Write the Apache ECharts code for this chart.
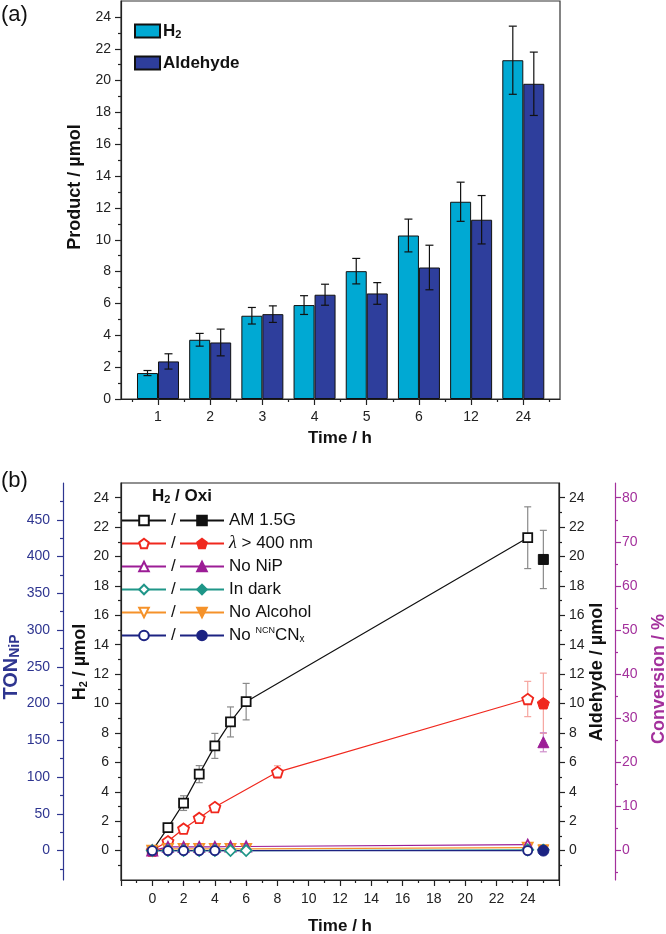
<!DOCTYPE html>
<html><head><meta charset="utf-8">
<script src="https://cdn.jsdelivr.net/npm/echarts@6/dist/echarts.min.js"></script>
<style>html,body{margin:0;padding:0;background:#fff}#c{width:666px;height:934px}</style>
</head><body><div id="c"></div>
<script>
// ---------- Panel (a) data ----------
const barCats = ['1', '2', '3', '4', '5', '6', '12', '24'];
const h2Bar = [1.63, 3.72, 5.23, 5.90, 8.03, 10.27, 12.39, 21.28];
const h2BarErr = [0.16, 0.40, 0.52, 0.59, 0.80, 1.03, 1.23, 2.14];
const aldBar = [2.36, 3.55, 5.33, 6.55, 6.63, 8.26, 11.26, 19.80];
const aldBarErr = [0.48, 0.84, 0.52, 0.66, 0.68, 1.40, 1.52, 1.99];
const aYTicks = [0, 2, 4, 6, 8, 10, 12, 14, 16, 18, 20, 22, 24];
const aYMinor = [1, 3, 5, 7, 9, 11, 13, 15, 17, 19, 21, 23];

// ---------- Panel (b) data ----------
const tAM = [0, 1, 2, 3, 4, 5, 6, 24];
const h2AM = [0, 1.56, 3.23, 5.20, 7.12, 8.75, 10.13, 21.28];
const h2AMErr = [0, 0.2, 0.5, 0.58, 0.85, 1.02, 1.24, 2.1];
const tVis = [0, 1, 2, 3, 4, 8, 24];
const h2Vis = [0, 0.63, 1.49, 2.22, 2.96, 5.34, 10.31];
const h2VisErr = [0, 0, 0, 0, 0, 0.43, 1.2];
const tNoNiP = [0, 1, 2, 3, 4, 5, 6, 24];
const h2NoNiP = [0, 0.25, 0.25, 0.25, 0.25, 0.28, 0.28, 0.4];
const tDark = [0, 1, 2, 3, 4, 5, 6, 24];
const h2Dark = [0, 0, 0, 0, 0, 0, 0, 0.05];
const tNoAlc = [0, 1, 2, 3, 4, 5, 6, 24];
const h2NoAlc = [0, 0.12, 0.12, 0.12, 0.12, 0.12, 0.12, 0.2];
const tNoCN = [0, 1, 2, 3, 4, 24];
const h2NoCN = [0, 0, 0, 0, 0, 0];
const aldTimes = [25, 25, 25, 25, 25, 25];
const aldVals = [19.8, 10.02, 7.37, 0.05, 0.02, 0];
const aldErrs = [1.98, 2.05, 0.65, 0, 0, 0];
const condNames = ['AM 1.5G', 'λ > 400 nm', 'No NiP', 'In dark', 'No Alcohol', 'No NCNCNx'];
const condLabels = ['{n|AM 1.5G}', '{it|λ}{n| > 400 nm}', '{n|No NiP}', '{n|In dark}', '{n|No Alcohol}', '{n|No }{sup|NCN}{n|CN}{sub|x}'];
const bYTicks = [0, 2, 4, 6, 8, 10, 12, 14, 16, 18, 20, 22, 24];
const bYMinor = [-1, 1, 3, 5, 7, 9, 11, 13, 15, 17, 19, 21, 23];
const tonTicks = [0, 50, 100, 150, 200, 250, 300, 350, 400, 450];
const tonMinor = [-25, 25, 75, 125, 175, 225, 275, 325, 375, 425, 475];
const convTicks = [0, 10, 20, 30, 40, 50, 60, 70, 80];
const convMinor = [-5, 5, 15, 25, 35, 45, 55, 65, 75];

// ---------- styling ----------
const FONT = "'Liberation Sans', Arial, Helvetica, sans-serif";
const AX = '#222';
const TONC = '#2e3590';
const CONVC = '#a3309c';
const PENT = 'path://M50,0 L97.55,34.55 L79.39,90.45 L20.61,90.45 L2.45,34.55 Z';

const h2Sets = [
  {t: tAM, v: h2AM, e: h2AMErr},
  {t: tVis, v: h2Vis, e: h2VisErr},
  {t: tNoNiP, v: h2NoNiP, e: null},
  {t: tDark, v: h2Dark, e: null},
  {t: tNoAlc, v: h2NoAlc, e: null},
  {t: tNoCN, v: h2NoCN, e: null}
];
const looks = [
  {c: '#111111', ec: '#8a8a8a', sym: 'rect', s: 9, fs: 10, rot: 0},
  {c: '#f0281e', ec: '#f6a59f', sym: PENT, s: 11, fs: 12, rot: 0},
  {c: '#9c1d96', ec: '#cf8fcb', sym: 'triangle', s: 10, fs: 11, rot: 0},
  {c: '#1f9688', ec: '#8fcac3', sym: 'diamond', s: 11, fs: 12, rot: 0},
  {c: '#f5922a', ec: '#f8c48f', sym: 'triangle', s: 10, fs: 11, rot: 180},
  {c: '#1c2382', ec: '#8d91c0', sym: 'circle', s: 9, fs: 11, rot: 0}
];
// drawing order (later = on top)
const drawOrder = [0, 1, 4, 2, 3, 5];

function errRender(offset, color, cap) {
  return function (params, api) {
    const x = api.value(0), v = api.value(1), e = api.value(2);
    const top = api.coord([x, v + e]);
    const bot = api.coord([x, v - e]);
    const cx = top[0] + offset;
    const style = {stroke: color, lineWidth: 1.2};
    return {type: 'group', children: [
      {type: 'line', shape: {x1: cx, y1: top[1], x2: cx, y2: bot[1]}, style: style},
      {type: 'line', shape: {x1: cx - cap, y1: top[1], x2: cx + cap, y2: top[1]}, style: style},
      {type: 'line', shape: {x1: cx - cap, y1: bot[1], x2: cx + cap, y2: bot[1]}, style: style}
    ]};
  };
}

const lab = (extra) => Object.assign({fontFamily: FONT, fontSize: 14, color: AX}, extra || {});
const line = (color) => ({show: true, onZero: false, lineStyle: {color: color || AX, width: 1.2}});

function yMajor(grid, pos, min, max, ticks, color, offset, margin) {
  return {type: 'value', gridIndex: grid, position: pos, offset: offset || 0, min: min, max: max,
    axisLine: line(color), splitLine: {show: false},
    axisTick: {show: true, length: 6, customValues: ticks, lineStyle: {color: color || AX, width: 1.2}},
    axisLabel: lab({customValues: ticks, margin: margin, color: color || AX})};
}
function yMinor(grid, pos, min, max, ticks, color, offset) {
  return {type: 'value', gridIndex: grid, position: pos, offset: offset || 0, min: min, max: max,
    axisLine: {show: false, onZero: false}, splitLine: {show: false},
    axisTick: {show: true, length: 3, customValues: ticks, lineStyle: {color: color || AX, width: 1.2}},
    axisLabel: {show: false}};
}

const series = [];
// Panel (a) bars
series.push({type: 'bar', name: 'H2', xAxisIndex: 1, yAxisIndex: 2, data: h2Bar, barWidth: 21, barGap: '0%',
  itemStyle: {color: '#00a9d3', borderColor: '#111', borderWidth: 1}, z: 2});
series.push({type: 'bar', name: 'Aldehyde', xAxisIndex: 1, yAxisIndex: 2, data: aldBar, barWidth: 21, barGap: '0%',
  itemStyle: {color: '#2e3e9c', borderColor: '#111', borderWidth: 1}, z: 2});
series.push({type: 'custom', xAxisIndex: 1, yAxisIndex: 2, z: 5, silent: true,
  renderItem: errRender(-10.5, '#111', 4), data: h2Bar.map((v, i) => [i, v, h2BarErr[i]])});
series.push({type: 'custom', xAxisIndex: 1, yAxisIndex: 2, z: 5, silent: true,
  renderItem: errRender(10.5, '#111', 4), data: aldBar.map((v, i) => [i, v, aldBarErr[i]])});

// Panel (b)
drawOrder.forEach(k => {
  const s = h2Sets[k];
  const L = looks[k];
  if (s.e) {
    series.push({type: 'custom', xAxisIndex: 3, yAxisIndex: 3, z: 1, silent: true,
      renderItem: errRender(0, L.ec, 3.5),
      data: s.t.map((t, i) => [t, s.v[i], s.e[i]]).filter(d => d[2] > 0)});
  }
  series.push({type: 'line', name: condNames[k] + ' H2', xAxisIndex: 3, yAxisIndex: 3, z: 3,
    data: s.t.map((t, i) => [t, s.v[i]]), symbol: L.sym, symbolSize: L.s, symbolRotate: L.rot,
    symbolKeepAspect: true, showSymbol: true,
    itemStyle: {color: '#fff', borderColor: L.c, borderWidth: 1.8},
    lineStyle: {color: L.c, width: 1.2}});
});
drawOrder.forEach(k => {
  const L = looks[k];
  const v = aldVals[k];
  if (aldErrs[k] > 0) {
    series.push({type: 'custom', xAxisIndex: 3, yAxisIndex: 5, z: 1, silent: true,
      renderItem: errRender(0, L.ec, 3.5), data: [[aldTimes[k], v, aldErrs[k]]]});
  }
  series.push({type: 'line', name: condNames[k], xAxisIndex: 3, yAxisIndex: 5, z: 4,
    data: [[aldTimes[k], v]], symbol: L.sym, symbolSize: L.fs, symbolRotate: L.rot,
    symbolKeepAspect: true, showSymbol: true,
    itemStyle: {color: L.c, borderColor: L.c, borderWidth: 1},
    lineStyle: {color: L.c, width: 1.2}});
});

const rotTitle = (x, y, text, color, size, rich) => ({type: 'text', x: x, y: y, rotation: Math.PI / 2,
  style: {text: text, fill: color || '#111', font: 'bold ' + (size || 18) + 'px ' + FONT,
    align: 'center', verticalAlign: 'middle', textAlign: 'center', textVerticalAlign: 'middle', rich: rich}});

const option = {
  animation: false,
  backgroundColor: '#fff',
  grid: [
    {left: 121, top: 1, width: 439, height: 398, show: true, borderColor: '#333', borderWidth: 1.2, outerBoundsMode: 'none', containLabel: false},
    {left: 131.9, top: 1, width: 417.5, height: 398, outerBoundsMode: 'none', containLabel: false},
    {left: 121, top: 483, width: 438, height: 397, show: true, borderColor: AX, borderWidth: 1.2, outerBoundsMode: 'none', containLabel: false}
  ],
  xAxis: [
    {type: 'value', gridIndex: 0, min: 0, max: 1, axisLine: line(), axisTick: {show: false}, axisLabel: {show: false}, splitLine: {show: false}},
    {type: 'category', gridIndex: 1, data: barCats, position: 'bottom', axisLine: {show: false, onZero: false},
      axisTick: {show: true, length: 3, alignWithLabel: false, lineStyle: {color: AX, width: 1.2}},
      axisLabel: lab({margin: 11}), splitLine: {show: false}},
    {type: 'category', gridIndex: 1, data: barCats, position: 'bottom', axisLine: {show: false, onZero: false},
      axisTick: {show: true, length: 6, alignWithLabel: true, lineStyle: {color: AX, width: 1.2}},
      axisLabel: {show: false}, splitLine: {show: false}},
    {type: 'value', gridIndex: 2, min: -2, max: 26, interval: 2, position: 'bottom', axisLine: line(),
      axisTick: {show: true, length: 6, lineStyle: {color: AX, width: 1.2}},
      minorTick: {show: true, splitNumber: 2, length: 3, lineStyle: {color: AX, width: 1.2}},
      axisLabel: lab({margin: 12, showMinLabel: false, showMaxLabel: false}), splitLine: {show: false}, minorSplitLine: {show: false}}
  ],
  yAxis: [
    yMajor(0, 'left', 0, 25, aYTicks, null, 0, 10),
    yMinor(0, 'left', 0, 25, aYMinor),
    {type: 'value', gridIndex: 1, min: 0, max: 25, show: false, axisLine: {show: false, onZero: false}, splitLine: {show: false}},
    yMajor(2, 'left', -2, 25, bYTicks, null, 0, 12),
    yMinor(2, 'left', -2, 25, bYMinor),
    yMajor(2, 'right', -2, 25, bYTicks, null, 0, 10),
    yMinor(2, 'right', -2, 25, bYMinor),
    yMajor(2, 'left', -40, 500, tonTicks, TONC, 58, 13),
    yMinor(2, 'left', -40, 500, tonMinor, TONC, 58),
    yMajor(2, 'right', -20 / 3, 250 / 3, convTicks, CONVC, 56, 7),
    yMinor(2, 'right', -20 / 3, 250 / 3, convMinor, CONVC, 56)
  ],
  legend: [
    {data: ['H2', 'Aldehyde'], left: 134, top: 22, padding: 0, orient: 'vertical', itemWidth: 25, itemHeight: 13, itemGap: 14,
      selectedMode: false, icon: 'rect', formatter: n => n === 'H2' ? '{b|H}{s|2}' : '{b|Aldehyde}',
      textStyle: {fontFamily: FONT, fontSize: 17, fontWeight: 'bold', color: '#111', lineHeight: 18, padding: [0, 0, 0, -2],
        rich: {b: {fontFamily: FONT, fontSize: 17, fontWeight: 'bold', color: '#111', lineHeight: 18},
          s: {fontFamily: FONT, fontSize: 11, fontWeight: 'bold', color: '#111', lineHeight: 11, verticalAlign: 'bottom'}}}},
    {data: condNames.map(n => n + ' H2'), left: 121, top: 511.5, padding: 0, orient: 'vertical', itemWidth: 44, itemHeight: 12, itemGap: 5,
      selectedMode: false, formatter: () => '/',
      textStyle: {fontFamily: FONT, fontSize: 17, color: '#111', lineHeight: 18}},
    {data: condNames, left: 179, top: 511.5, padding: 0, orient: 'vertical', itemWidth: 44, itemHeight: 12, itemGap: 5,
      selectedMode: false, formatter: n => condLabels[condNames.indexOf(n)],
      textStyle: {fontFamily: FONT, fontSize: 17, color: '#111', lineHeight: 18,
        rich: {n: {fontFamily: FONT, fontSize: 17, color: '#111', lineHeight: 18},
          it: {fontFamily: "'Liberation Serif', serif", fontStyle: 'italic', fontSize: 18, color: '#111', lineHeight: 18},
          sup: {fontFamily: FONT, fontSize: 9, color: '#111', lineHeight: 9, verticalAlign: 'top'},
          sub: {fontFamily: FONT, fontSize: 10, color: '#111', lineHeight: 10, verticalAlign: 'bottom'}}}}
  ],
  graphic: [
    {type: 'text', x: 1, y: 15, style: {text: '(a)', fill: '#111', font: '22px ' + FONT, verticalAlign: 'middle', textVerticalAlign: 'middle'}},
    {type: 'text', x: 1, y: 481, style: {text: '(b)', fill: '#111', font: '22px ' + FONT, verticalAlign: 'middle', textVerticalAlign: 'middle'}},
    {type: 'text', x: 340, y: 438, style: {text: 'Time / h', fill: '#111', font: 'bold 17px ' + FONT, align: 'center', verticalAlign: 'middle', textAlign: 'center', textVerticalAlign: 'middle'}},
    {type: 'text', x: 340, y: 926, style: {text: 'Time / h', fill: '#111', font: 'bold 17px ' + FONT, align: 'center', verticalAlign: 'middle', textAlign: 'center', textVerticalAlign: 'middle'}},
    rotTitle(75, 187, 'Product / µmol', '#111', 18),
    rotTitle(80, 662, '{t|H}{s|2}{t| / µmol}', '#111', 18, {
      t: {font: 'bold 18px ' + FONT, fill: '#111', lineHeight: 18},
      s: {font: 'bold 11px ' + FONT, fill: '#111', lineHeight: 11, verticalAlign: 'bottom'}}),
    rotTitle(11, 667, '{t|TON}{s|NiP}', TONC, 20, {
      t: {font: 'bold 20px ' + FONT, fill: TONC, lineHeight: 22},
      s: {font: 'bold 14px ' + FONT, fill: TONC, lineHeight: 14, verticalAlign: 'bottom'}}),
    rotTitle(597, 672, 'Aldehyde / µmol', '#111', 18),
    rotTitle(659, 679, 'Conversion / %', CONVC, 18),
    {type: 'text', x: 152, y: 496, style: {text: '{t|H}{s|2}{t| / Oxi}', font: 'bold 17px ' + FONT, fill: '#111', verticalAlign: 'middle', textVerticalAlign: 'middle',
      rich: {t: {font: 'bold 17px ' + FONT, fill: '#111', lineHeight: 18},
        s: {font: 'bold 11px ' + FONT, fill: '#111', lineHeight: 11, verticalAlign: 'bottom'}}}}
  ],
  series: series
};

const chart = echarts.init(document.getElementById('c'));
chart.setOption(option);
</script>
</body></html>
